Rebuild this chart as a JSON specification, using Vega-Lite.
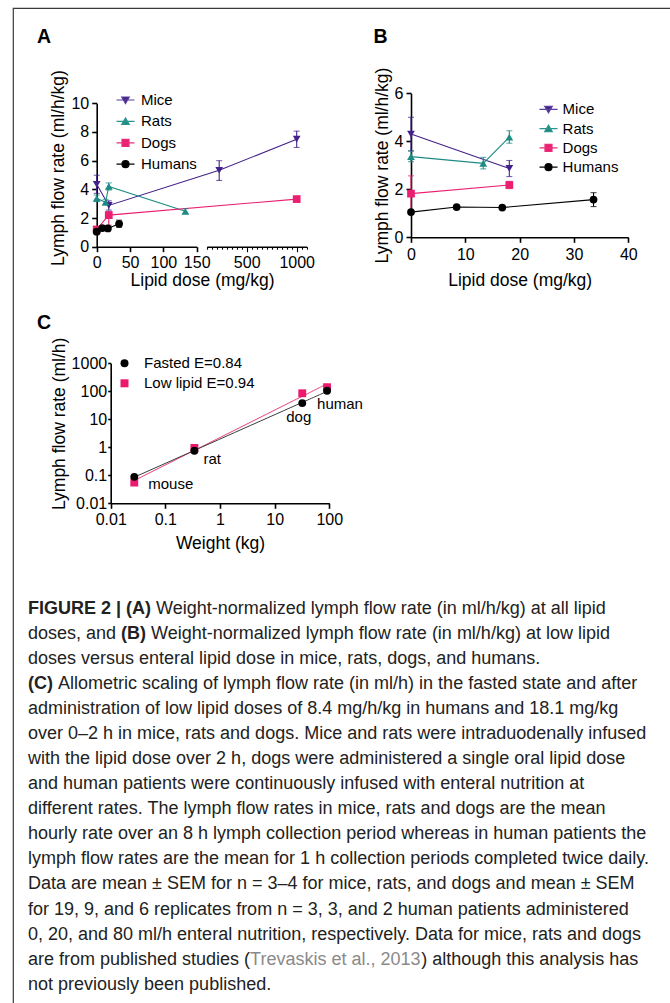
{
  "$schema": "https://vega.github.io/schema/vega-lite/v6.json",
  "background": "white",
  "width": 660,
  "height": 1000,
  "autosize": {"type": "none"},
  "padding": {"left": 13, "top": 8, "right": -3, "bottom": -5},
  "config": {
    "view": {"stroke": "#3a3a3a", "strokeWidth": 1.2},
    "font": "Liberation Sans",
    "axis": {
      "labelFont": "Liberation Sans", "labelFontSize": 16, "labelColor": "#000",
      "titleFont": "Liberation Sans", "titleFontSize": 17.5, "titleFontWeight": "normal", "titleColor": "#000",
      "domainColor": "#000", "domainWidth": 1.6, "tickColor": "#000", "tickWidth": 1.6, "tickSize": 5,
      "labelPadding": 3, "titlePadding": 3, "grid": false, "labelOverlap": false, "labelFlush": false
    },
    "legend": {"labelFont": "Liberation Sans", "labelFontSize": 15, "labelColor": "#000"},
    "text": {"font": "Liberation Sans"}
  },
  "datasets": {
    "A": [
      {"sp": "Mice", "dose": 0, "rate": 4.35, "lo": 3.72, "hi": 4.98},
      {"sp": "Mice", "dose": 18.1, "rate": 2.88, "lo": 2.55, "hi": 3.2},
      {"sp": "Mice", "dose": 225, "rate": 5.33, "lo": 4.62, "hi": 6.0},
      {"sp": "Mice", "dose": 1000, "rate": 7.5, "lo": 6.92, "hi": 8.06},
      {"sp": "Rats", "dose": 0, "rate": 3.37, "lo": 3.15, "hi": 3.6},
      {"sp": "Rats", "dose": 13.3, "rate": 3.1, "lo": 2.9, "hi": 3.3},
      {"sp": "Rats", "dose": 18.1, "rate": 4.2, "lo": 3.95, "hi": 4.45},
      {"sp": "Rats", "dose": 133, "rate": 2.47, "lo": 2.32, "hi": 2.65},
      {"sp": "Dogs", "dose": 0, "rate": 1.2, "lo": 1.05, "hi": 1.35},
      {"sp": "Dogs", "dose": 18.1, "rate": 2.2, "lo": 1.5, "hi": 2.45},
      {"sp": "Dogs", "dose": 1000, "rate": 3.32, "lo": 3.22, "hi": 3.42},
      {"sp": "Humans", "dose": 0, "rate": 1.05, "lo": 0.97, "hi": 1.13},
      {"sp": "Humans", "dose": 8.4, "rate": 1.3, "lo": 1.25, "hi": 1.35},
      {"sp": "Humans", "dose": 16.8, "rate": 1.27, "lo": 1.21, "hi": 1.33},
      {"sp": "Humans", "dose": 33.6, "rate": 1.6, "lo": 1.35, "hi": 1.85}
    ],
    "B": [
      {"sp": "Mice", "dose": 0, "rate": 4.3, "lo": 3.6, "hi": 5.0},
      {"sp": "Mice", "dose": 18.1, "rate": 2.87, "lo": 2.53, "hi": 3.2},
      {"sp": "Rats", "dose": 0, "rate": 3.36, "lo": 3.15, "hi": 3.6},
      {"sp": "Rats", "dose": 13.3, "rate": 3.08, "lo": 2.85, "hi": 3.33},
      {"sp": "Rats", "dose": 18.1, "rate": 4.17, "lo": 3.92, "hi": 4.44},
      {"sp": "Dogs", "dose": 0, "rate": 1.82, "lo": 1.1, "hi": 2.56},
      {"sp": "Dogs", "dose": 18.1, "rate": 2.18, "lo": 2.03, "hi": 2.33},
      {"sp": "Humans", "dose": 0, "rate": 1.05, "lo": 1.0, "hi": 1.1},
      {"sp": "Humans", "dose": 8.4, "rate": 1.26, "lo": 1.22, "hi": 1.3},
      {"sp": "Humans", "dose": 16.8, "rate": 1.24, "lo": 1.2, "hi": 1.28},
      {"sp": "Humans", "dose": 33.6, "rate": 1.57, "lo": 1.28, "hi": 1.86}
    ],
    "C": [
      {"st": "Low lipid E=0.94", "an": "mouse", "w": 0.027, "r": 0.055},
      {"st": "Low lipid E=0.94", "an": "rat", "w": 0.34, "r": 0.95},
      {"st": "Low lipid E=0.94", "an": "dog", "w": 32, "r": 85},
      {"st": "Low lipid E=0.94", "an": "human", "w": 91, "r": 140},
      {"st": "Fasted E=0.84", "an": "mouse", "w": 0.027, "r": 0.088},
      {"st": "Fasted E=0.84", "an": "rat", "w": 0.34, "r": 0.75},
      {"st": "Fasted E=0.84", "an": "dog", "w": 32, "r": 38},
      {"st": "Fasted E=0.84", "an": "human", "w": 91, "r": 105}
    ],
    "letters": [
      {"L": "A", "c": 0, "r": 0},
      {"L": "B", "c": 1, "r": 0},
      {"L": "C", "c": 0, "r": 1}
    ],
    "cap": [
      {"i": 1, "s": "b", "t": "FIGURE 2 | (A)"},
      {"i": 1, "s": "r1", "t": "Weight-normalized lymph flow rate (in ml/h/kg) at all lipid"},
      {"i": 2, "s": "m", "t": "doses, and"},
      {"i": 2, "s": "b2", "t": "(B)"},
      {"i": 2, "s": "r2", "t": "Weight-normalized lymph flow rate (in ml/h/kg) at low lipid"},
      {"i": 3, "s": "m", "t": "doses versus enteral lipid dose in mice, rats, dogs, and humans."},
      {"i": 4, "s": "b", "t": "(C)"},
      {"i": 4, "s": "r4", "t": "Allometric scaling of lymph flow rate (in ml/h) in the fasted state and after"},
      {"i": 5, "s": "m", "t": "administration of low lipid doses of 8.4 mg/h/kg in humans and 18.1 mg/kg"},
      {"i": 6, "s": "m", "t": "over 0–2 h in mice, rats and dogs. Mice and rats were intraduodenally infused"},
      {"i": 7, "s": "m", "t": "with the lipid dose over 2 h, dogs were administered a single oral lipid dose"},
      {"i": 8, "s": "m", "t": "and human patients were continuously infused with enteral nutrition at"},
      {"i": 9, "s": "m", "t": "different rates. The lymph flow rates in mice, rats and dogs are the mean"},
      {"i": 10, "s": "m", "t": "hourly rate over an 8 h lymph collection period whereas in human patients the"},
      {"i": 11, "s": "m", "t": "lymph flow rates are the mean for 1 h collection periods completed twice daily."},
      {"i": 12, "s": "m", "t": "Data are mean ± SEM for n = 3–4 for mice, rats, and dogs and mean ± SEM"},
      {"i": 13, "s": "m", "t": "for 19, 9, and 6 replicates from n = 3, 3, and 2 human patients administered"},
      {"i": 14, "s": "m", "t": "0, 20, and 80 ml/h enteral nutrition, respectively. Data for mice, rats and dogs"},
      {"i": 15, "s": "m", "t": "are from published studies ("},
      {"i": 15, "s": "g15", "t": "Trevaskis et al., 2013"},
      {"i": 15, "s": "r15", "t": ") although this analysis has"},
      {"i": 16, "s": "m", "t": "not previously been published."}
    ]
  },
  "resolve": {
    "scale": {"x": "independent", "y": "independent", "color": "independent", "shape": "independent", "fill": "independent", "stroke": "independent"},
    "axis": {"x": "independent", "y": "independent"},
    "legend": {"color": "independent", "shape": "independent", "fill": "independent", "stroke": "independent"}
  },
  "layer": [
    {
      "data": {"name": "A"},
      "resolve": {"scale": {"shape": "independent", "fill": "independent", "stroke": "independent"}},
      "layer": [
        {
          "mark": {"type": "line", "strokeWidth": 1.1},
          "encoding": {
            "x": {"field": "dose", "type": "quantitative", "scale": {"domain": [0, 150, 160, 1100], "range": [83.7, 183.7, 199.7, 293.7], "zero": false, "nice": false}, "axis": null},
            "y": {"field": "rate", "type": "quantitative", "scale": {"domain": [0, 10], "range": [238.7, 95.3], "nice": false, "zero": false}, "title": "Lymph flow rate (ml/h/kg)",
              "axis": {"orient": "left", "offset": -83.7, "values": [0, 2, 4, 6, 8, 10], "format": "d", "titleY": 159.5}},
            "color": {"field": "sp", "type": "nominal", "scale": {"domain": ["Mice", "Rats", "Dogs", "Humans"], "range": ["#43218a", "#1c8b83", "#ea1f70", "#000000"]}, "legend": null}
          }
        },
        {
          "mark": {"type": "errorbar", "ticks": true, "size": 6, "thickness": 1.1},
          "encoding": {
            "x": {"field": "dose", "type": "quantitative"},
            "y": {"field": "lo", "type": "quantitative", "title": "Lymph flow rate (ml/h/kg)"},
            "y2": {"field": "hi"},
            "color": {"field": "sp", "type": "nominal", "legend": null}
          }
        },
        {
          "mark": {"type": "point", "filled": true, "size": 60, "opacity": 1},
          "encoding": {
            "x": {"field": "dose", "type": "quantitative"},
            "y": {"field": "rate", "type": "quantitative", "title": "Lymph flow rate (ml/h/kg)"},
            "color": {"field": "sp", "type": "nominal", "legend": null},
            "shape": {"field": "sp", "type": "nominal", "scale": {"domain": ["Mice", "Rats", "Dogs", "Humans"], "range": ["triangle-down", "triangle-up", "square", "circle"]}, "legend": null}
          }
        },
        {
          "mark": {"type": "point", "filled": true, "opacity": 0},
          "encoding": {
            "x": {"field": "dose", "type": "quantitative"},
            "y": {"field": "rate", "type": "quantitative", "title": "Lymph flow rate (ml/h/kg)"},
            "fill": {"field": "sp", "type": "nominal", "scale": {"domain": ["Mice", "Rats", "Dogs", "Humans"], "range": ["#43218a", "#1c8b83", "#ea1f70", "#000000"]},
              "legend": {"title": null, "orient": "none", "legendX": 105, "legendY": 84.5, "symbolSize": 100, "labelOffset": 8, "rowPadding": 5.4, "padding": 0, "symbolStrokeWidth": 1.2, "symbolOpacity": 1}},
            "stroke": {"field": "sp", "type": "nominal", "scale": {"domain": ["Mice", "Rats", "Dogs", "Humans"], "range": ["#5b3f9c", "#2a958d", "#ea2f78", "#000000"]},
              "legend": {"title": null, "orient": "none", "legendX": 105, "legendY": 84.5, "symbolSize": 100, "labelOffset": 8, "rowPadding": 5.4, "padding": 0, "symbolStrokeWidth": 1.2, "symbolOpacity": 1}},
            "shape": {"field": "sp", "type": "nominal", "scale": {"domain": ["Mice", "Rats", "Dogs", "Humans"], "range": ["M-1.8,0H1.8M-0.75,-0.6H0.75L0,0.7Z", "M-1.8,0H1.8M-0.75,0.6H0.75L0,-0.7Z", "M-1.8,0H1.8M-0.7,-0.7H0.7V0.7H-0.7Z", "M-1.8,0H1.8M-0.7,0A0.7,0.7,0,1,0,0.7,0A0.7,0.7,0,1,0,-0.7,0Z"]},
              "legend": {"title": null, "orient": "none", "legendX": 105, "legendY": 84.5, "symbolSize": 100, "labelOffset": 8, "rowPadding": 5.4, "padding": 0, "symbolStrokeWidth": 1.2, "symbolOpacity": 1}}
          }
        }
      ]
    },
    {
      "data": {"values": [{"v": 0}]},
      "mark": {"type": "point", "opacity": 0},
      "encoding": {
        "x": {"field": "v", "type": "quantitative", "scale": {"domain": [0, 150], "range": [83.7, 183.7], "zero": false, "nice": false},
          "axis": {"orient": "bottom", "offset": -761.3, "values": [0, 50, 100, 150], "format": "d", "title": "Lipid dose (mg/kg)", "titleX": 189, "titlePadding": 0.5}}
      }
    },
    {
      "data": {"values": [{"v": 500}]},
      "mark": {"type": "point", "opacity": 0},
      "encoding": {
        "x": {"field": "v", "type": "quantitative", "scale": {"domain": [100, 1100], "range": [193.7, 293.7], "zero": false, "nice": false},
          "axis": {"orient": "bottom", "offset": -761.3, "values": [100, 150, 200, 250, 300, 350, 400, 450, 500, 550, 600, 650, 700, 750, 800, 850, 900, 950, 1000, 1050, 1100],
            "format": "d",
            "labelExpr": "datum.value == 500 || datum.value == 1000 ? datum.label : ''",
            "tickSize": {"condition": {"test": "datum.value == 500 || datum.value == 1000", "value": 5}, "value": 2.5},
            "tickWidth": 1.1, "title": null}}
      }
    },
    {
      "data": {"name": "B"},
      "resolve": {"scale": {"shape": "independent", "fill": "independent", "stroke": "independent"}},
      "layer": [
        {
          "mark": {"type": "line", "strokeWidth": 1.1},
          "encoding": {
            "x": {"field": "dose", "type": "quantitative", "scale": {"domain": [0, 40], "range": [398, 615.3], "nice": false, "zero": false}, "title": "Lipid dose (mg/kg)",
              "axis": {"orient": "bottom", "offset": -770.7, "values": [0, 10, 20, 30, 40], "format": "d", "labelPadding": 4.5, "titlePadding": 9}},
            "y": {"field": "rate", "type": "quantitative", "scale": {"domain": [0, 6], "range": [229.3, 85.3], "nice": false, "zero": false}, "title": "Lymph flow rate (ml/h/kg)",
              "axis": {"orient": "left", "offset": -398, "values": [0, 2, 4, 6], "format": "d", "titleY": 157}},
            "color": {"field": "sp", "type": "nominal", "scale": {"domain": ["Mice", "Rats", "Dogs", "Humans"], "range": ["#43218a", "#1c8b83", "#ea1f70", "#000000"]}, "legend": null}
          }
        },
        {
          "mark": {"type": "errorbar", "ticks": true, "size": 6, "thickness": 1.1},
          "encoding": {
            "x": {"field": "dose", "type": "quantitative", "title": "Lipid dose (mg/kg)"},
            "y": {"field": "lo", "type": "quantitative", "title": "Lymph flow rate (ml/h/kg)"},
            "y2": {"field": "hi"},
            "color": {"field": "sp", "type": "nominal", "legend": null}
          }
        },
        {
          "mark": {"type": "point", "filled": true, "size": 60, "opacity": 1},
          "encoding": {
            "x": {"field": "dose", "type": "quantitative", "title": "Lipid dose (mg/kg)"},
            "y": {"field": "rate", "type": "quantitative", "title": "Lymph flow rate (ml/h/kg)"},
            "color": {"field": "sp", "type": "nominal", "legend": null},
            "shape": {"field": "sp", "type": "nominal", "scale": {"domain": ["Mice", "Rats", "Dogs", "Humans"], "range": ["triangle-down", "triangle-up", "square", "circle"]}, "legend": null}
          }
        },
        {
          "mark": {"type": "point", "filled": true, "opacity": 0},
          "encoding": {
            "x": {"field": "dose", "type": "quantitative", "title": "Lipid dose (mg/kg)"},
            "y": {"field": "rate", "type": "quantitative", "title": "Lymph flow rate (ml/h/kg)"},
            "fill": {"field": "sp", "type": "nominal", "scale": {"domain": ["Mice", "Rats", "Dogs", "Humans"], "range": ["#43218a", "#1c8b83", "#ea1f70", "#000000"]},
              "legend": {"title": null, "orient": "none", "legendX": 528, "legendY": 93.8, "symbolSize": 100, "labelOffset": 6.6, "rowPadding": 3.3, "padding": 0, "symbolStrokeWidth": 1.2, "symbolOpacity": 1}},
            "stroke": {"field": "sp", "type": "nominal", "scale": {"domain": ["Mice", "Rats", "Dogs", "Humans"], "range": ["#5b3f9c", "#2a958d", "#ea2f78", "#000000"]},
              "legend": {"title": null, "orient": "none", "legendX": 528, "legendY": 93.8, "symbolSize": 100, "labelOffset": 6.6, "rowPadding": 3.3, "padding": 0, "symbolStrokeWidth": 1.2, "symbolOpacity": 1}},
            "shape": {"field": "sp", "type": "nominal", "scale": {"domain": ["Mice", "Rats", "Dogs", "Humans"], "range": ["M-1.8,0H1.8M-0.75,-0.6H0.75L0,0.7Z", "M-1.8,0H1.8M-0.75,0.6H0.75L0,-0.7Z", "M-1.8,0H1.8M-0.7,-0.7H0.7V0.7H-0.7Z", "M-1.8,0H1.8M-0.7,0A0.7,0.7,0,1,0,0.7,0A0.7,0.7,0,1,0,-0.7,0Z"]},
              "legend": {"title": null, "orient": "none", "legendX": 528, "legendY": 93.8, "symbolSize": 100, "labelOffset": 6.6, "rowPadding": 3.3, "padding": 0, "symbolStrokeWidth": 1.2, "symbolOpacity": 1}}
          }
        }
      ]
    },
    {
      "data": {"name": "C"},
      "resolve": {"scale": {"shape": "independent", "fill": "independent"}},
      "layer": [
        {
          "transform": [{"regression": "r", "on": "w", "groupby": ["st"], "method": "pow"}],
          "mark": {"type": "line", "strokeWidth": 1},
          "encoding": {
            "x": {"field": "w", "type": "quantitative", "scale": {"type": "log", "domain": [0.01, 100], "range": [97.7, 316.3], "nice": false}, "title": "Weight (kg)",
              "axis": {"orient": "bottom", "offset": -504.7, "values": [0.01, 0.1, 1, 10, 100], "format": "~g", "titlePadding": 7}},
            "y": {"field": "r", "type": "quantitative", "scale": {"type": "log", "domain": [0.01, 1000], "range": [495.3, 355.3], "nice": false}, "title": "Lymph flow rate (ml/h)",
              "axis": {"orient": "left", "offset": -97.7, "values": [0.01, 0.1, 1, 10, 100, 1000], "format": "~g", "titleY": 415.3, "tickSize": 3, "labelPadding": 1}},
            "stroke": {"field": "st", "type": "nominal", "scale": {"domain": ["Fasted E=0.84", "Low lipid E=0.94"], "range": ["#3c3c3c", "#e8417a"]}, "legend": null}
          }
        },
        {
          "mark": {"type": "point", "filled": true, "size": 62, "opacity": 1},
          "encoding": {
            "x": {"field": "w", "type": "quantitative", "title": "Weight (kg)"},
            "y": {"field": "r", "type": "quantitative", "title": "Lymph flow rate (ml/h)"},
            "color": {"field": "st", "type": "nominal", "scale": {"domain": ["Fasted E=0.84", "Low lipid E=0.94"], "range": ["#000000", "#ec1a6e"]}, "legend": null},
            "shape": {"field": "st", "type": "nominal", "scale": {"domain": ["Fasted E=0.84", "Low lipid E=0.94"], "range": ["circle", "square"]}, "legend": null}
          }
        },
        {
          "mark": {"type": "point", "filled": true, "opacity": 0},
          "encoding": {
            "x": {"field": "w", "type": "quantitative", "title": "Weight (kg)"},
            "y": {"field": "r", "type": "quantitative", "title": "Lymph flow rate (ml/h)"},
            "fill": {"field": "st", "type": "nominal", "scale": {"domain": ["Fasted E=0.84", "Low lipid E=0.94"], "range": ["#000000", "#ec1a6e"]},
              "legend": {"title": null, "orient": "none", "legendX": 104, "legendY": 347.8, "symbolSize": 64, "labelOffset": 12, "rowPadding": 4, "padding": 0, "symbolOpacity": 1}},
            "shape": {"field": "st", "type": "nominal", "scale": {"domain": ["Fasted E=0.84", "Low lipid E=0.94"], "range": ["circle", "square"]},
              "legend": {"title": null, "orient": "none", "legendX": 104, "legendY": 347.8, "symbolSize": 64, "labelOffset": 12, "rowPadding": 4, "padding": 0, "symbolOpacity": 1}}
          }
        },
        {
          "transform": [{"filter": "datum.st == 'Fasted E=0.84' && datum.an == 'mouse'"}],
          "mark": {"type": "text", "fontSize": 15, "align": "left", "baseline": "middle", "dx": 14, "dy": 7.5, "color": "#000"},
          "encoding": {"x": {"field": "w", "type": "quantitative"}, "y": {"field": "r", "type": "quantitative"}, "text": {"field": "an"}}
        },
        {
          "transform": [{"filter": "datum.st == 'Fasted E=0.84' && datum.an == 'rat'"}],
          "mark": {"type": "text", "fontSize": 15, "align": "left", "baseline": "middle", "dx": 9, "dy": 8, "color": "#000"},
          "encoding": {"x": {"field": "w", "type": "quantitative"}, "y": {"field": "r", "type": "quantitative"}, "text": {"field": "an"}}
        },
        {
          "transform": [{"filter": "datum.st == 'Fasted E=0.84' && datum.an == 'dog'"}],
          "mark": {"type": "text", "fontSize": 15, "align": "center", "baseline": "middle", "dx": -3.5, "dy": 14.3, "color": "#000"},
          "encoding": {"x": {"field": "w", "type": "quantitative"}, "y": {"field": "r", "type": "quantitative"}, "text": {"field": "an"}}
        },
        {
          "transform": [{"filter": "datum.st == 'Fasted E=0.84' && datum.an == 'human'"}],
          "mark": {"type": "text", "fontSize": 15, "align": "left", "baseline": "middle", "dx": -10, "dy": 13, "color": "#000"},
          "encoding": {"x": {"field": "w", "type": "quantitative"}, "y": {"field": "r", "type": "quantitative"}, "text": {"field": "an"}}
        }
      ]
    },
    {
      "data": {"name": "letters"},
      "mark": {"type": "text", "fontSize": 19.5, "fontWeight": "bold", "align": "left", "baseline": "alphabetic", "color": "#000"},
      "encoding": {
        "x": {"field": "c", "type": "quantitative", "scale": {"domain": [0, 1], "range": [24, 360.6], "zero": false, "nice": false}, "axis": null},
        "y": {"field": "r", "type": "quantitative", "scale": {"domain": [0, 1], "range": [34.7, 321.3], "zero": false, "nice": false}, "axis": null},
        "text": {"field": "L"}
      }
    },
    {
      "data": {"name": "cap"},
      "encoding": {
        "x": {"datum": 0, "type": "quantitative", "scale": {"domain": [0, 1], "range": [15, 16], "zero": false, "nice": false}, "axis": null},
        "y": {"field": "i", "type": "quantitative", "scale": {"domain": [1, 16], "range": [605.7, 981.7], "zero": false, "nice": false}, "axis": null},
        "text": {"field": "t"}
      },
      "layer": [
        {"transform": [{"filter": "datum.s == 'm'"}], "mark": {"type": "text", "fontSize": 18, "align": "left", "baseline": "alphabetic", "color": "#222"}},
        {"transform": [{"filter": "datum.s == 'b'"}], "mark": {"type": "text", "fontSize": 18, "fontWeight": "bold", "align": "left", "baseline": "alphabetic", "color": "#222"}},
        {"transform": [{"filter": "datum.s == 'r1'"}], "mark": {"type": "text", "fontSize": 18, "align": "left", "baseline": "alphabetic", "color": "#222", "dx": 128}},
        {"transform": [{"filter": "datum.s == 'b2'"}], "mark": {"type": "text", "fontSize": 18, "fontWeight": "bold", "align": "left", "baseline": "alphabetic", "color": "#222", "dx": 93.1}},
        {"transform": [{"filter": "datum.s == 'r2'"}], "mark": {"type": "text", "fontSize": 18, "align": "left", "baseline": "alphabetic", "color": "#222", "dx": 123.1}},
        {"transform": [{"filter": "datum.s == 'r4'"}], "mark": {"type": "text", "fontSize": 18, "align": "left", "baseline": "alphabetic", "color": "#222", "dx": 30}},
        {"transform": [{"filter": "datum.s == 'g15'"}], "mark": {"type": "text", "fontSize": 18, "align": "left", "baseline": "alphabetic", "color": "#8a8a8a", "dx": 222.1}},
        {"transform": [{"filter": "datum.s == 'r15'"}], "mark": {"type": "text", "fontSize": 18, "align": "left", "baseline": "alphabetic", "color": "#222", "dx": 393.2}}
      ]
    }
  ]
}
